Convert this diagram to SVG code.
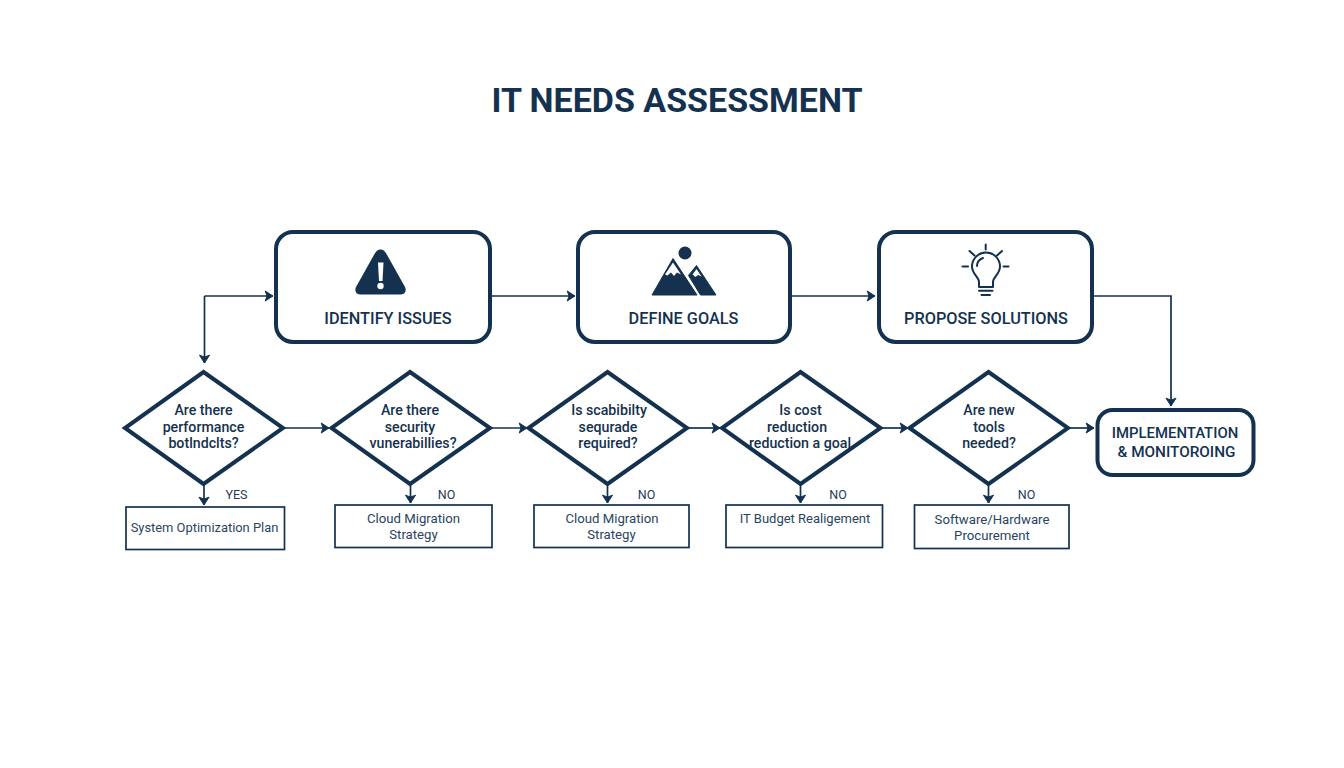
<svg xmlns="http://www.w3.org/2000/svg" width="1344" height="768" viewBox="0 0 1344 768">
<defs>
<marker id="arrow" markerUnits="userSpaceOnUse" markerWidth="12" markerHeight="12" refX="8" refY="5" orient="auto" viewBox="0 0 10 10"><path d="M1.5 0.8 L8 5 L1.5 9.2 L3 5 Z" fill="#14324f" stroke="#14324f" stroke-width="0.8" stroke-linejoin="round"/></marker>
</defs>
<style>
text{font-family:Roboto,"Liberation Sans",sans-serif;fill:#14324f;text-anchor:middle}
.box{fill:#fff;stroke:#14324f;stroke-width:4}
.dia{fill:#fff;stroke:#14324f;stroke-width:4;stroke-linejoin:miter}
.out{fill:#fff;stroke:#14324f;stroke-width:1.7}
.con{fill:none;stroke:#14324f;stroke-width:1.7;marker-end:url(#arrow)}
.h{font-size:16.3px;font-weight:500}
.q{font-size:14.2px;font-weight:500}
.o{font-size:13.2px;fill:#2a4560}
.l{font-size:12.5px;fill:#1f3c58}
.ic{fill:#14324f}
.ln{fill:none;stroke:#14324f;stroke-width:2;stroke-linecap:round;stroke-linejoin:round}
</style>
<rect width="1344" height="768" fill="#fff"/>
<text x="677" y="112" style="font-size:34px;font-weight:700" id="title">IT NEEDS ASSESSMENT</text>
<g id="connectors">
<path class="con" d="M204.500 296V363"/>
<path class="con" d="M204.500 296H273"/>
<path class="con" d="M491 296H575"/>
<path class="con" d="M791 296H875"/>
<path class="con" d="M1093 296H1171V406"/>
<path class="con" d="M284 428H329"/>
<path class="con" d="M491 428H527"/>
<path class="con" d="M688 428H720"/>
<path class="con" d="M882 428H908"/>
<path class="con" d="M1069 428H1094"/>
<path class="con" d="M204 485V505"/>
<path class="con" d="M410.500 485V503"/>
<path class="con" d="M607.500 485V503"/>
<path class="con" d="M800.500 485V503"/>
<path class="con" d="M988.500 485V503"/>
</g>
<g id="identify">
<rect class="box" x="276" y="232" width="214" height="110" rx="17"/>
<path class="ic" d="M380.500 249.500C377.500 249.500 376 251.500 374.500 254L356 287C354.500 290 355.500 294.500 360 294.500H401C405.500 294.500 406.500 290 405 287L386.500 254C385 251.500 383.500 249.500 380.500 249.500Z"/>
<path d="M378 262.500H383.500L382.500 281H379Z" fill="#fff"/><circle cx="380.500" cy="286" r="3.200" fill="#fff"/>
<text class="h" x="388" y="324">IDENTIFY ISSUES</text>
</g>
<g id="goals">
<rect class="box" x="578" y="232" width="212" height="110" rx="17"/>
<circle class="ic" cx="685" cy="253" r="6.500"/>
<path class="ic" d="M673 258.500L697 295H652Z" stroke="#14324f" stroke-width="1" stroke-linejoin="round"/>
<path class="ic" d="M696.500 265.500L716 295H700.500L688.500 275.500Z" stroke="#14324f" stroke-width="1" stroke-linejoin="round"/>
<path d="M673 262.500L681 274.500L677 272.500L674 276L671 272.500L667.500 275.500L665 274.500Z" fill="#fff"/>
<path d="M696.500 269L701.500 276.500L698 275L695.500 277L692.500 274.500Z" fill="#fff"/>
<text class="h" x="683.500" y="324">DEFINE GOALS</text>
</g>
<g id="solutions">
<rect class="box" x="879" y="232" width="213" height="110" rx="17"/>
<path class="ln" d="M979 287V282C979 277 972 274 972 266.500A14 14 0 0 1 1000 266.500C1000 274 993 277 993 282V287Z"/>
<path class="ln" d="M979 290.800H992.500M981.500 295H990" stroke-width="2.300"/>
<path class="ln" d="M985.700 244.500V249.500M969.500 251L974.500 255.500M1002 251L997 255.500M962.500 266.500H968M1003.500 266.500H1008.500"/>
<path class="ln" d="M977 266C977 262 979 259.500 983 258" stroke-width="1.500"/>
<text class="h" x="986" y="324">PROPOSE SOLUTIONS</text>
</g>
<g id="impl">
<rect class="box" x="1097.500" y="410" width="156" height="65" rx="15"/>
<text class="h" x="1175" y="438" style="font-size:14.9px">IMPLEMENTATION</text>
<text class="h" x="1176.500" y="457" style="font-size:15.3px">&amp; MONITOROING</text>
</g>
<g id="q1">
<path class="dia" d="M203.500 372L283 428L203.500 484L125 428Z"/>
<text class="q" x="203.500" y="415">Are there</text><text class="q" x="203.500" y="432">performance</text><text class="q" x="203.500" y="448">botlndclts?</text>
</g>
<g id="q2">
<path class="dia" d="M410 372L490 428L410 484L331.500 428Z"/>
<text class="q" x="410" y="415">Are there</text><text class="q" x="410" y="432">security</text><text class="q" x="413" y="448">vunerabillies?</text>
</g>
<g id="q3">
<path class="dia" d="M607.500 372L687 428L607.500 484L528.500 428Z"/>
<text class="q" x="609" y="415">Is scabibilty</text><text class="q" x="608" y="432">sequrade</text><text class="q" x="608" y="448">required?</text>
</g>
<g id="q4">
<path class="dia" d="M800.500 372L880.500 428L800.500 484L722 428Z"/>
<text class="q" x="800.500" y="415">Is cost</text><text class="q" x="797" y="432">reduction</text><text class="q" x="800" y="448">reduction a goal</text>
</g>
<g id="q5">
<path class="dia" d="M988.500 372L1068 428L988.500 484L909.500 428Z"/>
<text class="q" x="989" y="415">Are new</text><text class="q" x="989" y="432">tools</text><text class="q" x="989" y="448">needed?</text>
</g>
<g id="o1">
<rect class="out" x="126" y="507" width="158.500" height="42.500"/>
<text class="o" x="204.500" y="532" style="font-size:12.9px">System Optimization Plan</text>
<text class="l" x="236.500" y="499">YES</text>
</g>
<g id="o2">
<rect class="out" x="335" y="505" width="157" height="42.500"/>
<text class="o" x="413.500" y="523">Cloud Migration</text><text class="o" x="413.500" y="539">Strategy</text>
<text class="l" x="446.500" y="499">NO</text>
</g>
<g id="o3">
<rect class="out" x="534" y="505" width="155" height="42.500"/>
<text class="o" x="612" y="523">Cloud Migration</text><text class="o" x="611.500" y="539">Strategy</text>
<text class="l" x="646.500" y="499">NO</text>
</g>
<g id="o4">
<rect class="out" x="726" y="505" width="156.500" height="42.500"/>
<text class="o" x="805" y="523" style="font-size:13px">IT Budget Realigement</text>
<text class="l" x="838" y="499">NO</text>
</g>
<g id="o5">
<rect class="out" x="914.500" y="505" width="154.500" height="43.500"/>
<text class="o" x="992" y="524">Software/Hardware</text><text class="o" x="992" y="540">Procurement</text>
<text class="l" x="1026.500" y="499">NO</text>
</g>
</svg>
